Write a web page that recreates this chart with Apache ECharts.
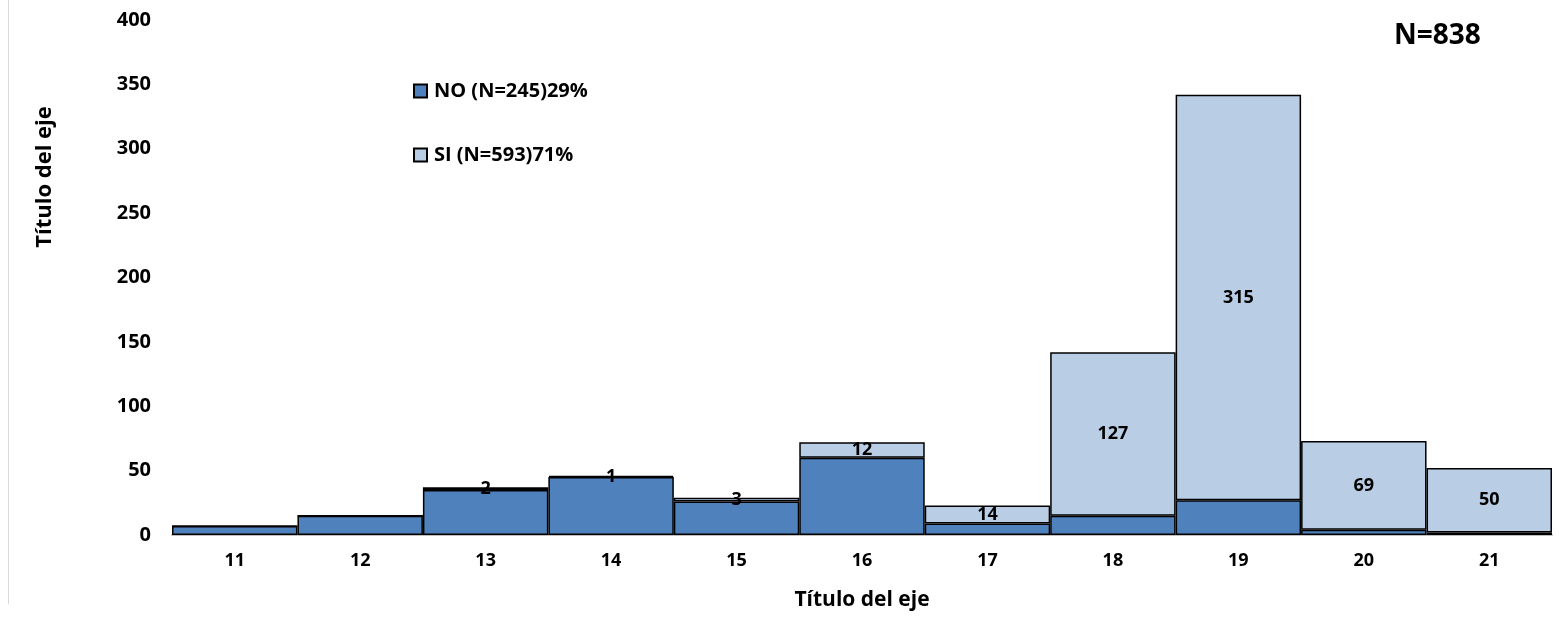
<!DOCTYPE html>
<html><head><meta charset="utf-8">
<script src="https://cdn.jsdelivr.net/npm/echarts@6/dist/echarts.min.js"></script>
<style>html,body{margin:0;padding:0;background:#fff}#c{width:1559px;height:626px}</style>
</head><body><div id="c"></div>
<script>
const categories = ['11','12','13','14','15','16','17','18','19','20','21'];
const noValues = [7, 15, 35, 45, 26, 60, 9, 15, 27, 4, 2];
const siValues = [0, 0, 2, 1, 3, 12, 14, 127, 315, 69, 50];
const seriesNames = ['NO (N=245)29%', 'SI (N=593)71%'];
const yTicks = [0, 50, 100, 150, 200, 250, 300, 350, 400];
const totalLabel = 'N=838';
const axisTitle = 'Título del eje';

const FONT = '"Open Sans", "Liberation Sans", sans-serif';
const chart = echarts.init(document.getElementById('c'));
chart.setOption({
  animation: false,
  textStyle: { fontFamily: FONT },
  grid: { left: 172, right: 7, top: 20, bottom: 91 },
  legend: {
    orient: 'vertical', left: 408, top: 76, itemGap: 44,
    itemWidth: 13, itemHeight: 13, icon: 'rect',
    textStyle: { fontFamily: FONT, fontWeight: 'bold', fontSize: 20, color: '#000', padding: [0,0,0,2] },
    data: seriesNames
  },
  xAxis: {
    type: 'category', data: categories,
    axisLine: { lineStyle: { color: '#bfbfbf', width: 2 } },
    axisTick: { show: false },
    axisLabel: { fontFamily: FONT, fontWeight: 'bold', fontSize: 18, color: '#000', margin: 17 },
    name: axisTitle, nameLocation: 'middle', nameGap: 55,
    nameTextStyle: { fontFamily: FONT, fontWeight: 'bold', fontSize: 21, color: '#000' }
  },
  yAxis: {
    type: 'value', min: 0, max: 400, interval: 50,
    axisLine: { show: false }, axisTick: { show: false },
    splitLine: { show: false },
    axisLabel: { fontFamily: FONT, fontWeight: 'bold', fontSize: 20, color: '#000', margin: 21,
      formatter: v => yTicks.includes(v) ? String(v) : '' }
  },
  series: [
    { name: seriesNames[0], type: 'bar', stack: 't', data: noValues, barCategoryGap: '0%',
      itemStyle: { color: '#4f81bd', borderColor: '#000', borderWidth: 1.5 } },
    { name: seriesNames[1], type: 'bar', stack: 't', data: siValues, barCategoryGap: '0%',
      itemStyle: { color: '#b9cde5', borderColor: '#000', borderWidth: 1.5 },
      label: { show: true, position: 'inside', fontFamily: FONT, fontWeight: 'bold', fontSize: 18, color: '#000',
        formatter: p => p.value ? String(p.value) : '' } }
  ],
  graphic: [
    { type: 'text', left: 1394, top: 22, style: { text: totalLabel, font: 'bold 28px ' + FONT, fill: '#000' } },
    { type: 'text', x: 45, y: 177, rotation: Math.PI/2,
      style: { text: axisTitle, font: 'bold 22px ' + FONT, fill: '#000', align: 'center', verticalAlign: 'middle' } },
    { type: 'line', shape: { x1: 8.5, y1: 0, x2: 8.5, y2: 604 }, style: { stroke: '#d9d9d9', lineWidth: 1 } }
  ]
});
</script></body></html>
